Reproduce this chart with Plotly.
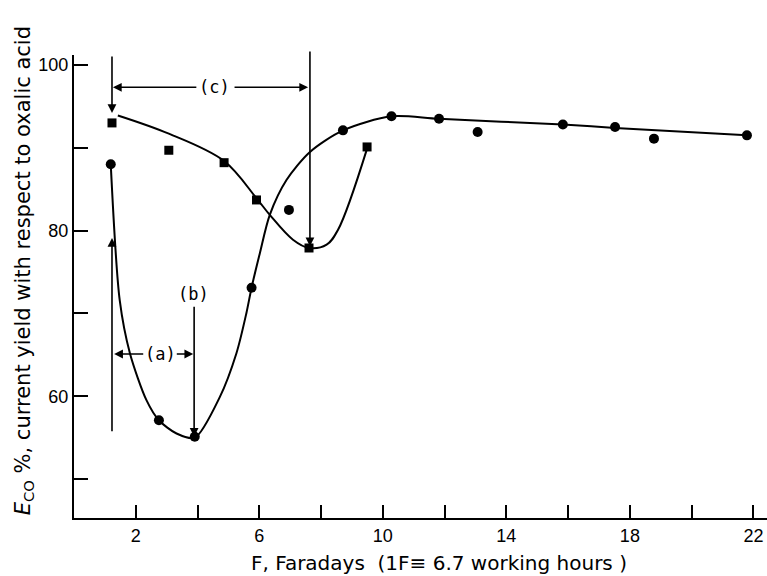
import plotly.graph_objects as go

# Data
circle_x = [1.19, 2.75, 3.91, 5.75, 6.96, 8.71, 10.28, 11.82, 13.07, 15.83, 17.52, 18.78, 21.79]
circle_y = [88.0, 57.1, 55.1, 73.1, 82.5, 92.1, 93.8, 93.5, 91.9, 92.8, 92.5, 91.1, 91.5]

square_x = [1.23, 3.07, 4.86, 5.91, 7.61, 9.49]
square_y = [93.0, 89.7, 88.2, 83.7, 77.9, 90.1]

# hand-drawn curves, points
circ_curve_x = [1.19, 1.48, 1.81, 2.35, 2.75, 3.32, 3.91, 4.72, 5.26, 5.58, 5.75, 6.02, 6.34, 6.88, 7.64, 8.71, 10.28, 11.82, 15.83, 17.52, 21.79]
circ_curve_y = [88.0, 71.6, 65.2, 59.5, 57.1, 55.5, 55.0, 59.9, 65.2, 70.0, 73.1, 77.3, 81.9, 86.1, 89.5, 92.1, 93.8, 93.5, 92.8, 92.4, 91.5]

sq_curve_x = [1.42, 3.07, 4.86, 5.91, 6.34, 7.09, 7.61, 8.18, 8.55, 9.49]
sq_curve_y = [93.9, 91.7, 88.4, 83.9, 81.9, 78.9, 77.9, 78.3, 80.1, 89.9]

x_tickvals = [2, 4, 6, 8, 10, 12, 14, 16, 18, 20, 22]
x_ticktext = ["2", "", "6", "", "10", "", "14", "", "18", "", "22"]
y_tickvals = [50, 60, 70, 80, 90, 100]
y_ticktext = ["", "60", "", "80", "", "100"]

FONT = "Liberation Sans"
TFONT = "DejaVu Sans"
LFONT = "DejaVu Sans Mono"

fig = go.Figure()
fig.add_trace(go.Scatter(x=circ_curve_x, y=circ_curve_y, mode="lines",
                         line=dict(color="black", width=2, shape="spline", smoothing=0.8),
                         hoverinfo="skip", showlegend=False))
fig.add_trace(go.Scatter(x=sq_curve_x, y=sq_curve_y, mode="lines",
                         line=dict(color="black", width=2, shape="spline", smoothing=1.0),
                         hoverinfo="skip", showlegend=False))
fig.add_trace(go.Scatter(x=circle_x, y=circle_y, mode="markers",
                         marker=dict(symbol="circle", size=10, color="black"),
                         showlegend=False))
fig.add_trace(go.Scatter(x=square_x, y=square_y, mode="markers",
                         marker=dict(symbol="square", size=9, color="black"),
                         showlegend=False))

def arrow(hx, hy, tx, ty):
    fig.add_annotation(x=hx, y=hy, ax=tx, ay=ty, xref="x", yref="y", axref="x", ayref="y",
                       text="", showarrow=True, arrowhead=2, arrowsize=1.1, arrowwidth=1.6,
                       arrowcolor="black", standoff=0, startstandoff=0)

def label(x, y, t):
    fig.add_annotation(x=x, y=y, xref="x", yref="y", text=t, showarrow=False,
                       font=dict(family=LFONT, size=17, color="black"))

# left vertical arrows
arrow(1.23, 79.1, 1.23, 55.6)
arrow(1.23, 94.2, 1.23, 101.2)
# (c)
arrow(1.26, 97.3, 4.01, 97.3)
arrow(7.58, 97.3, 5.15, 97.3)
label(4.55, 97.3, "(c)")
# (d)
arrow(7.64, 78.1, 7.64, 101.8)
label(7.64, 103.3, "(d)")
# (b)
arrow(3.89, 55.1, 3.89, 71.0)
label(3.86, 72.4, "(b)")
# (a)
arrow(1.30, 65.1, 2.29, 65.1)
arrow(3.86, 65.1, 3.28, 65.1)
label(2.8, 65.1, "(a)")

# axis titles
fig.add_annotation(xref="paper", yref="paper", x=0.527, y=-0.097,
                   xanchor="center", yanchor="middle", showarrow=False,
                   text="F, Faradays  (1F\u2261 6.7 working hours )",
                   font=dict(family=TFONT, size=20, color="black"))
fig.add_annotation(xref="paper", yref="paper", x=0, y=0.533, xshift=-50,
                   xanchor="center", yanchor="middle", showarrow=False,
                   textangle=-90,
                   text="<i>E</i><sub>CO</sub> %, current yield with respect to oxalic acid",
                   font=dict(family=TFONT, size=21, color="black"))

fig.update_xaxes(range=[0, 22.44], tickvals=x_tickvals, ticktext=x_ticktext,
                 ticks="inside", ticklen=13, tickwidth=2, tickcolor="black",
                 showline=True, linecolor="black", linewidth=2, showgrid=False, zeroline=False,
                 tickfont=dict(family=FONT, size=18, color="black"))
fig.update_yaxes(range=[45.3, 101.2], tickvals=y_tickvals, ticktext=y_ticktext,
                 ticks="inside", ticklen=14, tickwidth=2, tickcolor="black",
                 showline=True, linecolor="black", linewidth=2, showgrid=False, zeroline=False,
                 tickfont=dict(family=FONT, size=18, color="black"))

fig.update_layout(width=767, height=576, margin=dict(l=74, r=0, t=55, b=58),
                  plot_bgcolor="white", paper_bgcolor="white", showlegend=False)

fig.write_html("out.html", config={"displayModeBar": False},
               post_script="document.body.style.margin='0px';")
